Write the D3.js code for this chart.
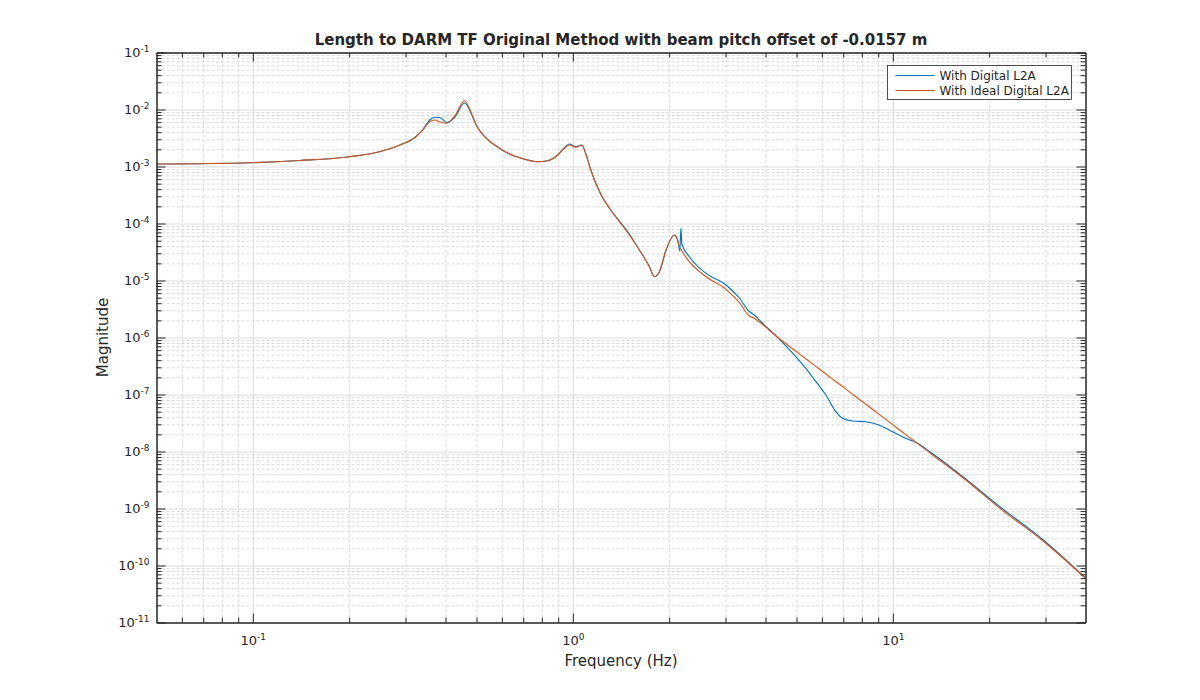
<!DOCTYPE html>
<html>
<head>
<meta charset="utf-8">
<script src="https://cdn.jsdelivr.net/npm/d3@7"></script>
<style>
body { margin: 0; background: #fff; }
text { font-family: "DejaVu Sans", sans-serif; fill: #262626; }
</style>
</head>
<body>
<script>
// ------------------------------------------------------------------
// data
// ------------------------------------------------------------------
var freq = [0.05, 0.098, 0.14, 0.201, 0.249, 0.288, 0.321, 0.34, 0.357, 0.37,
            0.386, 0.403, 0.427, 0.459, 0.482, 0.499, 0.53, 0.57, 0.627, 0.69,
            0.777, 0.835, 0.897, 0.942, 0.976, 1.024, 1.067, 1.101, 1.135, 1.226,
            1.301, 1.398, 1.502, 1.614, 1.735, 1.798, 1.864, 1.956, 2.076, 2.126,
            2.16, 2.176, 2.191, 2.312, 2.608, 3.011, 3.313, 3.559, 3.689, 3.88,
            4.363, 4.978, 5.347, 5.748, 6.176, 6.637, 6.961, 7.477, 8.233, 9.06,
            9.97, 10.97, 11.79, 13.29, 16.9, 21.46, 29.66, 40]

var magDigital = [1.106e-3, 1.166e-3, 1.274e-3, 1.486e-3, 1.818e-3, 2.383e-3, 3.227e-3, 4.46e-3, 6.54e-3, 7.30e-3,
                  7.18e-3, 5.91e-3, 7.24e-3, 1.300e-2, 8.34e-3, 5.35e-3, 3.33e-3, 2.383e-3, 1.704e-3, 1.392e-3,
                  1.214e-3, 1.264e-3, 1.592e-3, 2.154e-3, 2.481e-3, 2.225e-3, 2.383e-3, 1.592e-3, 9.04e-4, 3.16e-4,
                  1.870e-4, 1.106e-4, 6.54e-5, 3.43e-5, 1.747e-5, 1.166e-5, 1.427e-5, 3.43e-5, 6.28e-5, 5.13e-5,
                  3.29e-5, 8.34e-5, 4.37e-5, 2.615e-5, 1.337e-5, 8.34e-6, 4.93e-6, 2.858e-6, 2.481e-6, 1.870e-6,
                  1.008e-6, 4.60e-7, 2.88e-7, 1.678e-7, 9.80e-8, 4.99e-8, 3.82e-8, 3.43e-8, 3.33e-8, 2.92e-8,
                  2.225e-8, 1.704e-8, 1.450e-8, 9.22e-9, 3.29e-9, 1.106e-9, 2.746e-10, 6.03e-11]

var magIdeal = [1.106e-3, 1.166e-3, 1.274e-3, 1.486e-3, 1.818e-3, 2.383e-3, 3.227e-3, 4.37e-3, 6.11e-3, 6.54e-3,
                5.96e-3, 5.73e-3, 7.69e-3, 1.427e-2, 8.58e-3, 5.35e-3, 3.33e-3, 2.383e-3, 1.704e-3, 1.392e-3,
                1.214e-3, 1.264e-3, 1.592e-3, 2.086e-3, 2.383e-3, 2.172e-3, 2.383e-3, 1.592e-3, 9.04e-4, 3.16e-4,
                1.848e-4, 1.075e-4, 6.28e-5, 3.43e-5, 1.747e-5, 1.166e-5, 1.427e-5, 3.43e-5, 6.28e-5, 5.13e-5,
                3.67e-5, 3.53e-5, 3.29e-5, 2.137e-5, 1.166e-5, 7.00e-6, 4.11e-6, 2.383e-6, 2.172e-6, 1.761e-6,
                1.008e-6, 5.75e-7, 4.23e-7, 3.11e-7, 2.29e-7, 1.691e-7, 1.381e-7, 1.016e-7, 6.73e-8, 4.49e-8,
                2.99e-8, 1.979e-8, 1.462e-8, 8.79e-9, 3.16e-9, 1.037e-9, 2.615e-10, 5.96e-11]

var seriesNames  = ["With Digital L2A", "With Ideal Digital L2A"]
var seriesColors = ["#0072BD", "#D95319"]

var xDecades = [-1, 0, 1]
var yDecades = [-11, -10, -9, -8, -7, -6, -5, -4, -3, -2, -1]

var titleText  = "Length to DARM TF Original Method with beam pitch offset of -0.0157 m"
var xLabelText = "Frequency (Hz)"
var yLabelText = "Magnitude"

// ------------------------------------------------------------------
// layout
// ------------------------------------------------------------------
var W = 1200, H = 700
var L = 156.5, R = 1085.5, T = 52.5, B = 622.5

var svg = d3.select("body").append("svg")
            .attr("width", W).attr("height", H)

var x = d3.scaleLog().domain([0.05, 40]).range([L, R])
var y = d3.scaleLog().domain([1e-11, 1e-1]).range([B, T])

// minor values: 2..9 times each decade, inside the domain
var minors = function (scale, d0, d1) {
	var out = [], dom = scale.domain()
	for (var d = d0; d <= d1; d++)
		for (var k = 2; k <= 9; k++) {
			var v = k * Math.pow(10, d)
			if (v > dom[0] * 1.0001 && v < dom[1] * 0.9999) out.push(v)
		}
	return out
}
var xMajor = xDecades.map(function (e) { return Math.pow(10, e) })
var yMajor = yDecades.map(function (e) { return Math.pow(10, e) })
var xMinor = minors(x, -2, 1)
var yMinor = minors(y, -11, -2)

var clean = function (g) { g.select(".domain").remove() }

// ------------------------------------------------------------------
// grid
// ------------------------------------------------------------------
svg.append("g").attr("transform", "translate(0," + B + ")")
	.call(d3.axisBottom(x).tickValues(xMinor).tickSize(-(B - T)).tickFormat(""))
	.call(clean)
	.selectAll("line").attr("stroke", "#d9d9d9").attr("stroke-dasharray", "3,2")
svg.append("g").attr("transform", "translate(" + L + ",0)")
	.call(d3.axisLeft(y).tickValues(yMinor).tickSize(-(R - L)).tickFormat(""))
	.call(clean)
	.selectAll("line").attr("stroke", "#d9d9d9").attr("stroke-dasharray", "3,2")
svg.append("g").attr("transform", "translate(0," + B + ")")
	.call(d3.axisBottom(x).tickValues(xMajor).tickSize(-(B - T)).tickFormat(""))
	.call(clean)
	.selectAll("line").attr("stroke", "#dcdcdc")
svg.append("g").attr("transform", "translate(" + L + ",0)")
	.call(d3.axisLeft(y).tickValues(yMajor).tickSize(-(R - L)).tickFormat(""))
	.call(clean)
	.selectAll("line").attr("stroke", "#dcdcdc")

// ------------------------------------------------------------------
// curves
// ------------------------------------------------------------------
var line = d3.line()
	.x(function (d) { return x(d[0]) })
	.y(function (d) { return y(d[1]) })
	.curve(d3.curveMonotoneX)

var series = [magDigital, magIdeal]
series.forEach(function (mags, i) {
	svg.append("path")
		.datum(freq.map(function (f, j) { return [f, mags[j]] }))
		.attr("fill", "none")
		.attr("stroke", seriesColors[i])
		.attr("stroke-width", 1.1)
		.attr("stroke-linejoin", "round")
		.attr("d", line)
})

// ------------------------------------------------------------------
// axes : ticks inside on all four sides
// ------------------------------------------------------------------
var pow10 = function (sel, fs) {
	sel.text(null).each(function (d) {
		var t = d3.select(this)
		t.append("tspan").text("10")
		t.append("tspan").attr("dy", "-0.55em").attr("font-size", fs)
			.text(Math.round(Math.log10(d)))
	})
}
var styleAxis = function (g) {
	g.select(".domain").attr("stroke", "#262626")
	g.selectAll(".tick line").attr("stroke", "#262626")
}

var xb = svg.append("g").attr("transform", "translate(0," + B + ")")
	.call(d3.axisBottom(x).tickValues(xMajor).tickSizeInner(-9).tickSizeOuter(0).tickPadding(13))
	.call(styleAxis)
xb.selectAll(".tick text").attr("font-size", "13px").attr("fill", "#262626").call(pow10, "9px")

svg.append("g").attr("transform", "translate(0," + B + ")")
	.call(d3.axisBottom(x).tickValues(xMinor).tickSizeInner(-5).tickSizeOuter(0).tickFormat(""))
	.call(styleAxis)
svg.append("g").attr("transform", "translate(0," + T + ")")
	.call(d3.axisTop(x).tickValues(xMajor).tickSizeInner(-9).tickSizeOuter(0).tickFormat(""))
	.call(styleAxis)
svg.append("g").attr("transform", "translate(0," + T + ")")
	.call(d3.axisTop(x).tickValues(xMinor).tickSizeInner(-5).tickSizeOuter(0).tickFormat(""))
	.call(styleAxis)

var yl = svg.append("g").attr("transform", "translate(" + L + ",0)")
	.call(d3.axisLeft(y).tickValues(yMajor).tickSizeInner(-9).tickSizeOuter(0).tickPadding(7))
	.call(styleAxis)
yl.selectAll(".tick text").attr("font-size", "13px").attr("fill", "#262626").call(pow10, "9px")

svg.append("g").attr("transform", "translate(" + L + ",0)")
	.call(d3.axisLeft(y).tickValues(yMinor).tickSizeInner(-5).tickSizeOuter(0).tickFormat(""))
	.call(styleAxis)
svg.append("g").attr("transform", "translate(" + R + ",0)")
	.call(d3.axisRight(y).tickValues(yMajor).tickSizeInner(-9).tickSizeOuter(0).tickFormat(""))
	.call(styleAxis)
svg.append("g").attr("transform", "translate(" + R + ",0)")
	.call(d3.axisRight(y).tickValues(yMinor).tickSizeInner(-5).tickSizeOuter(0).tickFormat(""))
	.call(styleAxis)

// ------------------------------------------------------------------
// labels
// ------------------------------------------------------------------
svg.append("text")
	.attr("x", (L + R) / 2).attr("y", 45)
	.attr("text-anchor", "middle")
	.attr("font-size", "15px").attr("font-weight", "bold")
	.attr("fill", "#000")
	.text(titleText)

svg.append("text")
	.attr("x", (L + R) / 2).attr("y", 666)
	.attr("text-anchor", "middle")
	.attr("font-size", "15px")
	.text(xLabelText)

svg.append("text")
	.attr("transform", "translate(108," + (T + B) / 2 + ") rotate(-90)")
	.attr("text-anchor", "middle")
	.attr("font-size", "15px")
	.text(yLabelText)

// ------------------------------------------------------------------
// legend
// ------------------------------------------------------------------
var lg = svg.append("g").attr("transform", "translate(887.5,65.5)")
lg.append("rect")
	.attr("width", 184).attr("height", 34)
	.attr("fill", "#fff").attr("stroke", "#262626").attr("stroke-width", 0.8)
seriesNames.forEach(function (name, i) {
	var row = lg.append("g").attr("transform", "translate(0," + (10 + i * 15) + ")")
	row.append("line")
		.attr("x1", 8).attr("x2", 47)
		.attr("stroke", seriesColors[i]).attr("stroke-width", 1.1)
	row.append("text")
		.attr("x", 52).attr("dy", "0.35em")
		.attr("font-size", "12px")
		.text(name)
})
</script>
</body>
</html>
